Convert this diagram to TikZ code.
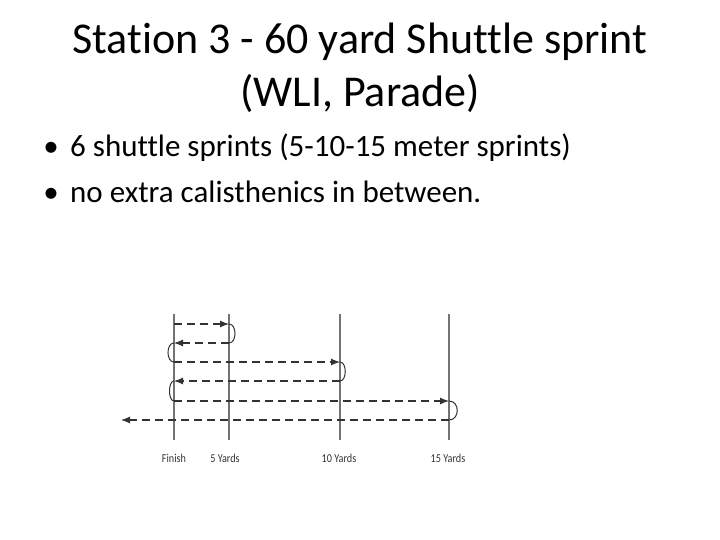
\documentclass[tikz,border=0pt]{standalone}
\usepackage{fontspec}
\setmainfont{Carlito}[Ligatures=CommonOff]
\newfontfamily\labelfont{Carlito}[FakeStretch=0.85]
\usetikzlibrary{arrows.meta}

\tikzset{
  heading/.style={font=\fontsize{44}{53}\selectfont, anchor=base, inner sep=0pt},
  bodytext/.style={font=\fontsize{31}{37}\selectfont, anchor=base west, inner sep=0pt},
  yardline/.style={draw=black!55, line width=1.1pt},
  run/.style={draw=black!80, dash pattern=on 8pt off 5pt, line width=1.1pt,
    -{Latex[length=9pt,width=7pt]}},
  turn/.style={draw=black!80, line width=1pt},
  yardlabel/.style={font=\labelfont\fontsize{12}{14}\selectfont, text=black!80, anchor=base},
}

\begin{document}
\begin{tikzpicture}[x=1pt,y=-1pt]
\useasboundingbox (0,0) rectangle (720,540);

% heading
\node[heading] (title) at (360,54) {Station 3 - 60 yard Shuttle sprint};
\node[heading] (subtitle) at (360,107) {(WLI, Parade)};

% bullets
\node[bodytext, anchor=base] (dot1) at (51,157) {\textbullet};
\node[bodytext] (txt1) at (70,157) {6 shuttle sprints (5-10-15 meter sprints)};
\node[bodytext, anchor=base] (dot2) at (51,203) {\textbullet};
\node[bodytext] (txt2) at (70,203) {no extra calisthenics in between.};

% yard lines and crossing points
\foreach \name/\x in {fin/174, y5/229, y10/340, y15/449} {
  \coordinate (\name top) at (\x,314);
  \coordinate (\name bot) at (\x,440);
  \draw[yardline] (\name top) -- (\name bot);
  \foreach \i/\y in {1/324, 2/343, 3/362, 4/381, 5/401, 6/420}
    \coordinate (\name-\i) at (\x,\y);
}
\coordinate (out) at (121,420);

% the runs
\draw[run] (fin-1) -- (y5-1);
\draw[turn] (y5-1) .. controls +(8,0) and +(8,0) .. (y5-2);
\draw[run] (y5-2) -- (fin-2);
\draw[turn] (fin-2) .. controls +(-8,0) and +(-8,0) .. (fin-3);
\draw[run] (fin-3) -- (y10-3);
\draw[turn] (y10-3) .. controls +(7,0) and +(7,0) .. (y10-4);
\draw[run] (y10-4) -- (fin-4);
\draw[turn] (fin-4) .. controls +(-6,0) and +(-6,0) .. (fin-5);
\draw[run] (fin-5) -- (y15-5);
\draw[turn] (y15-5) .. controls +(11,0) and +(11,0) .. (y15-6);
\draw[run] (y15-6) -- (out);

% labels
\node[yardlabel] (finlab) at (174,462) {Finish};
\node[yardlabel] (y5lab) at (225,462) {5 Yards};
\node[yardlabel] (y10lab) at (339,462) {10 Yards};
\node[yardlabel] (y15lab) at (448,462) {15 Yards};
\end{tikzpicture}
\end{document}
